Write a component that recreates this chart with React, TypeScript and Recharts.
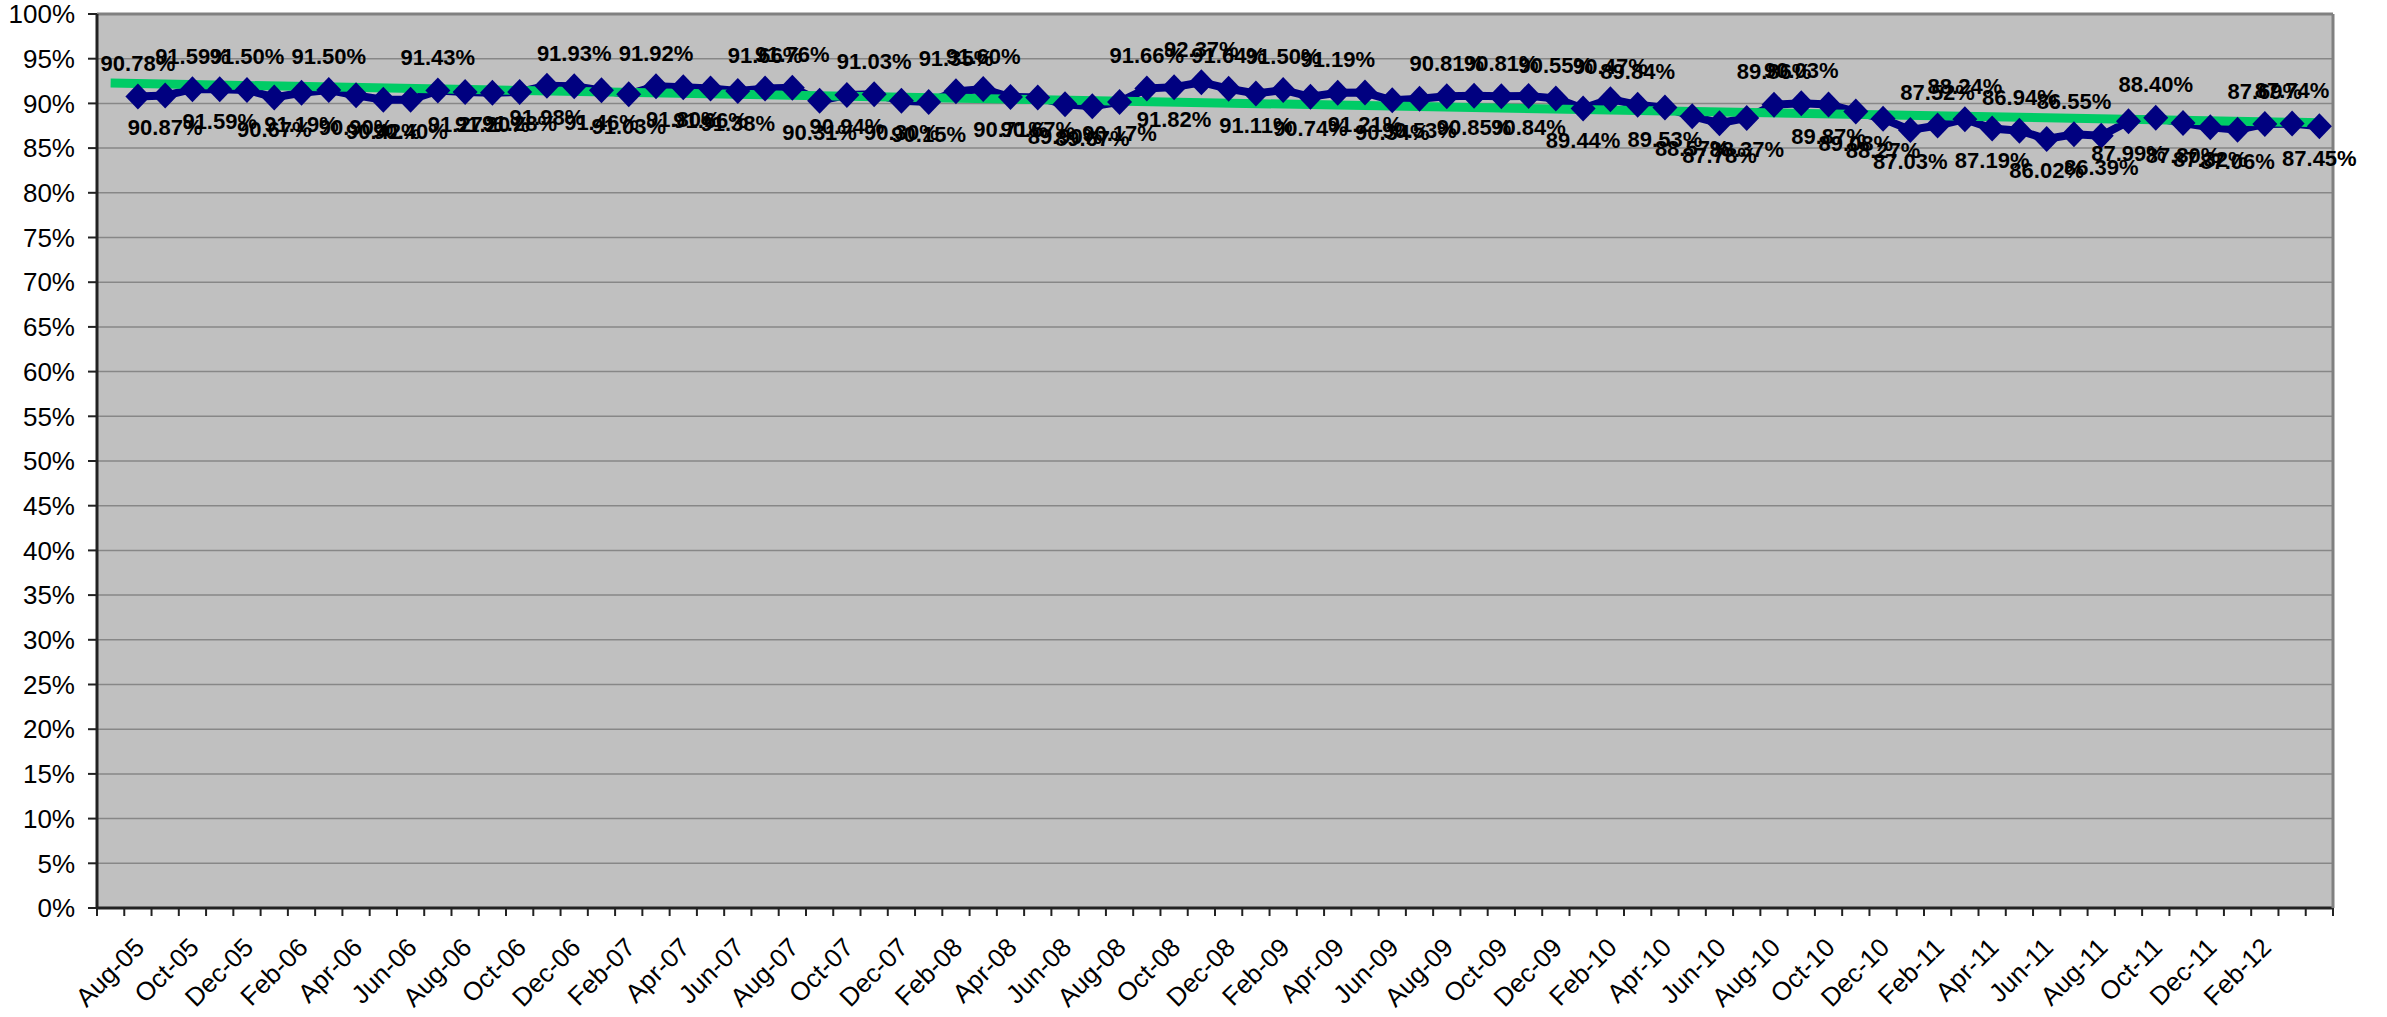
import React from "react";
import { CartesianGrid, Line, LineChart, XAxis, YAxis } from "recharts";

// monthly categories; the first slot has no reading
const MONTHS = [
  "Jul-05", "Aug-05", "Sep-05", "Oct-05", "Nov-05", "Dec-05",
  "Jan-06", "Feb-06", "Mar-06", "Apr-06", "May-06", "Jun-06", "Jul-06", "Aug-06", "Sep-06", "Oct-06", "Nov-06", "Dec-06",
  "Jan-07", "Feb-07", "Mar-07", "Apr-07", "May-07", "Jun-07", "Jul-07", "Aug-07", "Sep-07", "Oct-07", "Nov-07", "Dec-07",
  "Jan-08", "Feb-08", "Mar-08", "Apr-08", "May-08", "Jun-08", "Jul-08", "Aug-08", "Sep-08", "Oct-08", "Nov-08", "Dec-08",
  "Jan-09", "Feb-09", "Mar-09", "Apr-09", "May-09", "Jun-09", "Jul-09", "Aug-09", "Sep-09", "Oct-09", "Nov-09", "Dec-09",
  "Jan-10", "Feb-10", "Mar-10", "Apr-10", "May-10", "Jun-10", "Jul-10", "Aug-10", "Sep-10", "Oct-10", "Nov-10", "Dec-10",
  "Jan-11", "Feb-11", "Mar-11", "Apr-11", "May-11", "Jun-11", "Jul-11", "Aug-11", "Sep-11", "Oct-11", "Nov-11", "Dec-11",
  "Jan-12", "Feb-12", "Mar-12", "Apr-12",
];

const VALUES: (number | null)[] = [
  null,
  90.78, 90.87, 91.59, 91.59, 91.5, 90.67, 91.19, 91.5, 90.9, 90.42,
  90.4, 91.43, 91.27, 91.2, 91.28, 91.98, 91.93, 91.46, 91.03, 91.92,
  91.8, 91.66, 91.38, 91.66, 91.76, 90.31, 90.94, 91.03, 90.3, 90.15,
  91.35, 91.6, 90.71, 90.67, 89.9, 89.67, 90.17, 91.66, 91.82, 92.37,
  91.64, 91.11, 91.5, 90.74, 91.19, 91.21, 90.34, 90.53, 90.81, 90.85,
  90.81, 90.84, 90.55, 89.44, 90.47, 89.84, 89.53, 88.57, 87.78, 88.37,
  89.86, 90.03, 89.87, 89.08, 88.27, 87.03, 87.52, 88.24, 87.19, 86.94,
  86.02, 86.55, 86.39, 87.99, 88.4, 87.8, 87.32, 87.06, 87.69, 87.74, 87.45,
];

// A = label above the point, B = below
const LABEL_SIDE = (
  "-" +
  "ABABABBABB" + "BABBBBABBA" + "BBBAABBABB" + "AABBBBBABA" +
  "ABABABBBAB" + "ABABAABBBB" + "AABBBBAABA" + "BABBABBBAA" + "B"
).split("");

// linear trendline, first and last category
const TREND_ENDS = [92.28, 87.84];

const Y_TICKS = [0, 5, 10, 15, 20, 25, 30, 35, 40, 45, 50, 55, 60, 65, 70, 75, 80, 85, 90, 95, 100];

const W = 2387;
const H = 1017;
const PLOT_LEFT = 97;
const PLOT_RIGHT = 2333;
const PLOT_TOP = 14;
const PLOT_BOTTOM = 908;
const STEP = (PLOT_RIGHT - PLOT_LEFT) / MONTHS.length;
const FONT = '"Liberation Sans", Arial, sans-serif';
const NAVY = "#000080";

const data = MONTHS.map((month, i) => ({
  month,
  value: VALUES[i],
  trend: i === 0 ? TREND_ENDS[0] : i === MONTHS.length - 1 ? TREND_ENDS[1] : null,
}));

function Diamond(props: any) {
  const { cx, cy, index } = props;
  if (cx == null || cy == null || VALUES[index] == null) return <g key={`d${index}`} />;
  return (
    <polygon
      key={`d${index}`}
      points={`${cx},${cy - 13} ${cx + 12.5},${cy} ${cx},${cy + 13} ${cx - 12.5},${cy}`}
      fill={NAVY}
    />
  );
}

function ValueLabel(props: any) {
  const { cx, cy, index } = props;
  const v = VALUES[index];
  if (cx == null || cy == null || v == null) return <g key={`l${index}`} />;
  const above = LABEL_SIDE[index] === "A";
  return (
    <text
      key={`l${index}`}
      x={cx}
      y={above ? cy - 33 : cy + 32}
      textAnchor="middle"
      dominantBaseline="central"
      fontSize={22}
      fontWeight="bold"
      fontFamily={FONT}
      fill="#000"
    >
      {v.toFixed(2)}%
    </text>
  );
}

function MonthTick(props: any) {
  const { x, y, index, payload } = props;
  const lx = x + 8;
  const ly = y + 41;
  const last = index === MONTHS.length - 1;
  return (
    <g>
      <line x1={x - STEP / 2} x2={x - STEP / 2} y1={y} y2={y + 8} stroke="#222" strokeWidth={2} />
      {last && <line x1={x + STEP / 2} x2={x + STEP / 2} y1={y} y2={y + 8} stroke="#222" strokeWidth={2} />}
      {index % 2 === 1 && !last && (
        <text
          x={lx}
          y={ly}
          transform={`rotate(-45 ${lx} ${ly})`}
          textAnchor="end"
          fontSize={26}
          fontFamily={FONT}
          fill="#000"
        >
          {payload.value}
        </text>
      )}
    </g>
  );
}

export default function App() {
  return (
    <div style={{ position: "absolute", left: 0, top: 0, width: W, height: H, background: "#fff" }}>
      <LineChart
        width={W}
        height={H}
        data={data}
        margin={{ top: 0, right: 0, bottom: 0, left: 0 }}
      >
        <CartesianGrid vertical={false} fill="#C0C0C0" stroke="#878787" strokeWidth={1.5} />
        <XAxis
          xAxisId="top"
          orientation="top"
          dataKey="month"
          height={PLOT_TOP}
          tick={false}
          tickLine={false}
          axisLine={{ stroke: "#808080", strokeWidth: 3 }}
        />
        <XAxis
          dataKey="month"
          height={H - PLOT_BOTTOM}
          interval={0}
          padding={{ left: STEP / 2, right: STEP / 2 }}
          tickSize={0}
          tickMargin={0}
          tickLine={false}
          tick={MonthTick}
          axisLine={{ stroke: "#222", strokeWidth: 3 }}
        />
        <YAxis
          width={PLOT_LEFT}
          domain={[0, 100]}
          ticks={Y_TICKS}
          interval={0}
          tickFormatter={(v: number) => `${v}%`}
          tickSize={9}
          tickMargin={13}
          tick={{ fontSize: 26, fill: "#000", fontFamily: FONT }}
          tickLine={{ stroke: "#222", strokeWidth: 2 }}
          axisLine={{ stroke: "#222", strokeWidth: 3 }}
        />
        <YAxis
          yAxisId="right"
          orientation="right"
          width={W - PLOT_RIGHT}
          domain={[0, 100]}
          tick={false}
          tickLine={false}
          axisLine={{ stroke: "#808080", strokeWidth: 3 }}
        />
        <Line
          dataKey="value"
          stroke={NAVY}
          strokeWidth={8}
          dot={Diamond}
          activeDot={false}
          isAnimationActive={false}
        />
        <Line
          dataKey="trend"
          stroke="#00CC66"
          strokeWidth={9}
          connectNulls
          dot={false}
          activeDot={false}
          isAnimationActive={false}
        />
        <Line
          dataKey="value"
          stroke="none"
          dot={ValueLabel}
          activeDot={false}
          isAnimationActive={false}
        />
      </LineChart>
    </div>
  );
}
